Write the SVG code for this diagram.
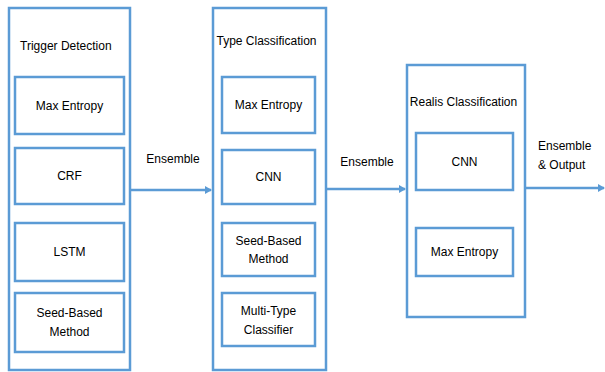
<svg xmlns="http://www.w3.org/2000/svg" width="605" height="372" viewBox="0 0 605 372">
<style>
.box{fill:#ffffff;stroke:#5b9bd5;stroke-width:2.5}
.t{font-family:"Liberation Sans",Arial,sans-serif;font-size:12px;fill:#000}
.c{text-anchor:middle}
.con{stroke:#5b9bd5;stroke-width:2.5;fill:none}
</style>
<defs>
<marker id="ah" markerWidth="8" markerHeight="8" refX="6" refY="4" orient="auto" markerUnits="userSpaceOnUse">
<path d="M0,0 L7,4 L0,8 Z" fill="#5b9bd5"/>
</marker>
</defs>
<rect width="605" height="372" fill="#ffffff"/>
<g id="trigger-detection">
<rect class="box" x="9" y="8" width="121" height="362"/>
<text class="t" x="20" y="50">Trigger Detection</text>
</g>
<g id="td-maxent"><rect class="box" x="15" y="77" width="109" height="57"/><text class="t c" x="69.5" y="110">Max Entropy</text></g>
<g id="td-crf"><rect class="box" x="15" y="148" width="109" height="56"/><text class="t c" x="69.5" y="180">CRF</text></g>
<g id="td-lstm"><rect class="box" x="15" y="223" width="109" height="58"/><text class="t c" x="69.5" y="256">LSTM</text></g>
<g id="td-seed"><rect class="box" x="15" y="293" width="109" height="59"/><text class="t c" x="69.5" y="317">Seed-Based</text><text class="t c" x="69.5" y="336">Method</text></g>

<g id="type-classification">
<rect class="box" x="213" y="8" width="113" height="362"/>
<text class="t c" x="266.5" y="45">Type Classification</text>
</g>
<g id="tc-maxent"><rect class="box" x="222" y="77" width="93" height="56"/><text class="t c" x="268.5" y="109">Max Entropy</text></g>
<g id="tc-cnn"><rect class="box" x="222" y="150" width="93" height="54"/><text class="t c" x="268.5" y="181">CNN</text></g>
<g id="tc-seed"><rect class="box" x="222" y="223" width="93" height="53"/><text class="t c" x="268.5" y="245">Seed-Based</text><text class="t c" x="268.5" y="263">Method</text></g>
<g id="tc-multi"><rect class="box" x="222" y="293" width="93" height="53"/><text class="t c" x="268.5" y="315">Multi-Type</text><text class="t c" x="268.5" y="334">Classifier</text></g>

<g id="realis-classification">
<rect class="box" x="407" y="65" width="118" height="252"/>
<text class="t c" x="463.5" y="106">Realis Classification</text>
</g>
<g id="rc-cnn"><rect class="box" x="416" y="133" width="97" height="57"/><text class="t c" x="464.5" y="166">CNN</text></g>
<g id="rc-maxent"><rect class="box" x="416" y="228" width="97" height="48"/><text class="t c" x="464.5" y="256">Max Entropy</text></g>

<g id="connectors">
<line class="con" x1="130" y1="190" x2="211" y2="190" marker-end="url(#ah)"/>
<text class="t c" x="173" y="163">Ensemble</text>
<line class="con" x1="326" y1="189" x2="405" y2="189" marker-end="url(#ah)"/>
<text class="t c" x="367" y="166">Ensemble</text>
<line class="con" x1="525" y1="188" x2="604" y2="188" marker-end="url(#ah)"/>
<text class="t" x="538" y="150">Ensemble</text>
<text class="t" x="538" y="169">&amp; Output</text>
</g>
</svg>
